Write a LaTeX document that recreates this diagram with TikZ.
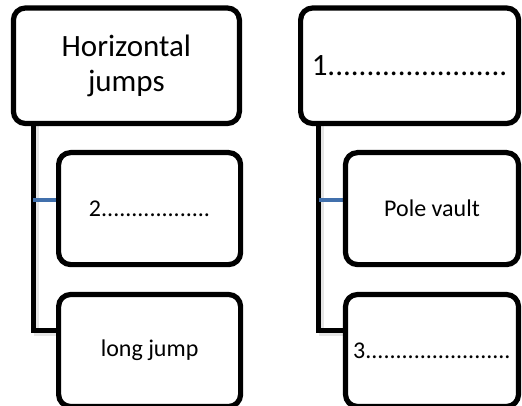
\documentclass[tikz,border=0pt]{standalone}
\usepackage{fontspec}
\setmainfont{Carlito}
\usetikzlibrary{backgrounds}
\definecolor{linkblue}{HTML}{4170AC}
\tikzset{
  x=1pt, y=-1pt,
  box/.style={draw=black, fill=white, line width=5.2pt, rounded corners=12pt, inner sep=0pt, align=center},
  topbox/.style={box, minimum height=115.5pt, font=\fontsize{31}{35}\selectfont},
  subbox/.style={box, minimum height=112pt, font=\fontsize{24}{29}\selectfont},
  conn/.style={line width=5pt, draw=black},
  connshadow/.style={line width=5pt, draw=black!10},
  bluelink/.style={line width=4.5pt, draw=linkblue}
}
\begin{document}
\begin{tikzpicture}
\useasboundingbox (0,0) rectangle (522,406);
\clip (0,0) rectangle (522,406);
% boxes
\node[topbox, minimum width=226pt] (L1) at (126.4,65.75) {Horizontal\\jumps};
\node[subbox, minimum width=182pt] (L2) at (149.6,208.6) {2..................};
\node[subbox, minimum width=182pt] (L3) at (149.6,350.5) {long jump};
\node[topbox, minimum width=218pt] (R1) at (409.6,65.75) {1.......................};
\node[subbox, minimum width=173pt] (R2) at (432,208.6) {Pole vault};
\node[subbox, minimum width=173pt] (R3) at (432,350.5) {3........................};
\begin{scope}[on background layer]
\fill[white] (0,0) rectangle (522,406);
% connector shadows
\draw[connshadow] ([xshift=25.5pt]L1.south west) |- ([xshift=2pt,yshift=17pt]L3.west);
\draw[connshadow] ([xshift=23.5pt]R1.south west) |- ([xshift=2pt,yshift=17pt]R3.west);
% connectors
\draw[conn] ([xshift=22.5pt]L1.south west) coordinate (lt) |- ([yshift=20pt]L3.west);
\draw[conn] ([xshift=20.8pt]R1.south west) coordinate (rt) |- ([yshift=20pt]R3.west);
\draw[bluelink] ([yshift=8.6pt]L2.west) coordinate (lb) -- (lt |- lb);
\draw[bluelink] ([yshift=8.6pt]R2.west) coordinate (rb) -- (rt |- rb);
\end{scope}
\end{tikzpicture}
\end{document}
